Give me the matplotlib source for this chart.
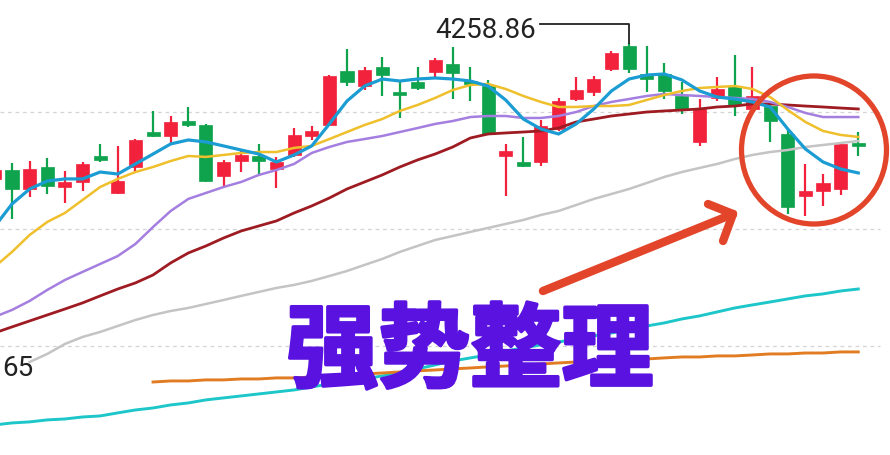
import matplotlib
matplotlib.use("Agg")
import matplotlib.pyplot as plt
import matplotlib.patheffects as pe
from matplotlib.patches import Ellipse
import numpy as np

# ---------------- data ----------------
idx = list(range(-1, 49))
opens = [4142.8, 4150.4, 4134.2, 4153.0, 4135.9, 4140.2, 4162.4, 4130.8, 4153.0, 4182.9,
         4179.5, 4192.3, 4188.9, 4145.3, 4158.1, 4162.4, 4151.3, 4163.3, 4179.5, 4188.9,
         4235.1, 4222.2, 4238.5, 4217.1, 4225.7, 4234.2, 4241.0, 4226.5, 4222.2, 4162.4,
         4157.3, 4157.3, 4185.5, 4211.1, 4217.1, 4236.8, 4256.4, 4232.5, 4232.5, 4213.7,
         4174.4, 4212.0, 4222.2, 4202.6, 4205.1, 4181.2, 4128.2, 4132.5, 4134.2, 4173.5]
closes = [4150.4, 4134.2, 4151.3, 4136.8, 4140.2, 4155.6, 4159.0, 4141.0, 4176.1, 4179.5,
          4191.5, 4188.9, 4141.0, 4157.3, 4163.3, 4158.1, 4157.3, 4180.4, 4183.8, 4230.8,
          4225.7, 4235.9, 4231.6, 4214.5, 4220.5, 4244.5, 4233.4, 4224.0, 4181.2, 4166.7,
          4153.9, 4188.1, 4209.4, 4218.8, 4228.2, 4250.4, 4236.8, 4228.2, 4218.0, 4202.6,
          4202.6, 4219.7, 4206.0, 4213.7, 4192.3, 4118.8, 4132.5, 4139.3, 4172.7, 4171.0]
highs = [4153.0, 4156.4, 4158.1, 4160.7, 4149.6, 4157.3, 4172.7, 4171.0, 4176.9, 4200.9,
         4196.6, 4204.3, 4189.8, 4159.0, 4166.7, 4172.7, 4161.6, 4186.3, 4188.1, 4231.6,
         4253.9, 4238.5, 4247.0, 4226.5, 4238.5, 4246.2, 4255.6, 4238.5, 4227.4, 4172.7,
         4178.7, 4193.2, 4212.0, 4229.9, 4230.8, 4252.2, 4258.86, 4256.4, 4241.9, 4225.7,
         4211.1, 4229.9, 4248.7, 4238.5, 4206.9, 4185.5, 4155.6, 4147.0, 4174.4, 4182.9]
lows = [4140.2, 4108.6, 4127.4, 4129.9, 4122.2, 4132.5, 4157.3, 4129.9, 4148.7, 4178.7,
        4171.8, 4187.2, 4140.2, 4135.9, 4148.7, 4145.3, 4135.1, 4161.6, 4176.1, 4188.1,
        4222.2, 4218.8, 4213.7, 4194.9, 4218.8, 4228.2, 4211.1, 4209.4, 4180.4, 4128.2,
        4153.0, 4153.9, 4183.8, 4209.4, 4213.7, 4235.1, 4233.4, 4217.1, 4211.1, 4198.3,
        4171.0, 4209.4, 4196.6, 4201.7, 4174.4, 4112.8, 4111.1, 4119.7, 4129.1, 4162.4]

ma5 = [4101.7, 4121.4, 4134.2, 4141.0, 4142.8, 4142.8, 4148.7, 4147.0, 4155.6, 4164.1,
       4172.7, 4176.1, 4174.4, 4171.0, 4167.5, 4164.1, 4157.3, 4163.3, 4171.0, 4189.8,
       4209.4, 4222.2, 4228.2, 4226.5, 4228.2, 4229.1, 4228.2, 4226.5, 4222.2, 4210.3,
       4194.0, 4185.5, 4181.2, 4189.8, 4202.6, 4218.0, 4228.2, 4231.6, 4232.5, 4227.4,
       4218.0, 4212.8, 4211.1, 4208.6, 4204.3, 4185.5, 4168.4, 4157.3, 4151.3, 4147.9]
ma10 = [4067.5, 4080.4, 4094.9, 4106.0, 4113.7, 4124.8, 4135.9, 4142.8, 4148.7, 4153.0,
        4158.1, 4162.4, 4161.6, 4163.3, 4165.0, 4165.8, 4165.8, 4169.3, 4171.0, 4176.9,
        4182.9, 4188.9, 4194.0, 4200.9, 4206.0, 4212.0, 4218.8, 4223.1, 4224.0, 4219.7,
        4213.7, 4208.6, 4204.3, 4204.3, 4205.1, 4205.1, 4206.0, 4210.3, 4214.5, 4218.0,
        4220.5, 4221.4, 4222.2, 4219.7, 4212.8, 4201.7, 4191.5, 4183.8, 4180.4, 4178.7]
ma20 = [4024.8, 4030.8, 4038.5, 4047.9, 4056.4, 4063.3, 4070.1, 4076.9, 4087.2, 4101.7,
        4115.4, 4125.7, 4130.8, 4135.9, 4140.2, 4146.2, 4150.4, 4155.6, 4165.0, 4170.1,
        4174.4, 4176.9, 4179.5, 4182.9, 4186.3, 4189.8, 4192.3, 4195.7, 4196.6, 4196.6,
        4194.9, 4194.9, 4196.6, 4200.0, 4205.1, 4208.6, 4211.1, 4213.7, 4215.4, 4214.5,
        4213.7, 4212.8, 4212.0, 4211.1, 4208.6, 4204.3, 4199.2, 4195.7, 4195.7, 4195.7]
ma30 = [4011.1, 4016.3, 4021.4, 4026.5, 4031.6, 4036.8, 4042.8, 4048.7, 4053.9, 4060.7,
        4071.0, 4079.5, 4085.5, 4092.3, 4098.3, 4102.6, 4106.9, 4113.7, 4119.7, 4126.5,
        4134.2, 4140.2, 4146.2, 4153.0, 4159.0, 4164.1, 4170.1, 4177.8, 4181.2, 4182.1,
        4182.9, 4183.8, 4186.3, 4191.5, 4194.0, 4196.6, 4198.3, 4200.0, 4200.9, 4201.7,
        4202.6, 4204.3, 4205.1, 4206.9, 4206.9, 4206.0, 4205.1, 4204.3, 4203.4, 4202.6]
ma60_idx = list(range(1, 49))
ma60 = [3986.3, 3993.2, 4001.7, 4007.7, 4012.0, 4017.1, 4022.2, 4026.5, 4029.9, 4032.5,
        4035.9, 4039.3, 4042.8, 4046.2, 4049.6, 4052.2, 4055.6, 4059.8, 4064.1, 4069.3,
        4074.4, 4080.4, 4085.5, 4090.6, 4094.0, 4097.5, 4100.9, 4104.3, 4107.7, 4112.0,
        4115.4, 4120.5, 4125.7, 4129.9, 4134.2, 4139.3, 4144.5, 4148.7, 4152.2, 4155.6,
        4159.8, 4163.3, 4165.8, 4167.5, 4170.1, 4171.8, 4173.5, 4175.2]
ma120 = [3932.5, 3934.2, 3935.1, 3936.8, 3937.6, 3939.3, 3940.2, 3942.8, 3945.3, 3947.0,
         3949.6, 3951.3, 3953.9, 3955.6, 3957.3, 3959.0, 3960.7, 3962.4, 3965.0, 3967.5,
         3970.1, 3971.8, 3974.4, 3976.9, 3980.4, 3983.8, 3987.2, 3989.8, 3992.3, 3995.7,
         3998.3, 4000.9, 4003.4, 4006.0, 4008.6, 4011.1, 4013.7, 4017.1, 4019.7, 4023.1,
         4025.7, 4029.1, 4032.5, 4035.1, 4037.6, 4040.2, 4042.8, 4044.5, 4047.0, 4048.7]
ma250_idx = list(range(8, 49))
ma250 = [3969.2, 3970.1, 3970.1, 3971.0, 3971.0, 3971.8, 3971.8, 3972.7, 3972.7, 3973.5,
         3974.4, 3975.2, 3976.1, 3976.9, 3977.8, 3978.7, 3979.5, 3980.4, 3981.2, 3982.1,
         3982.9, 3983.8, 3984.6, 3985.5, 3986.3, 3987.2, 3988.1, 3988.5, 3988.9, 3989.8,
         3990.6, 3990.6, 3991.5, 3991.5, 3992.3, 3993.2, 3993.2, 3994.0, 3994.0, 3994.9,
         3994.9]
grid_levels = [4200, 4100, 4000]
high_label = "4258.86"
low_label = "65"
title_text = "强势整理"

# ---------------- figure ----------------
fig = plt.figure(figsize=(8.9, 4.56), dpi=100)
fig.patch.set_facecolor("white")
ax = fig.add_axes([0, 0, 1, 1])
ax.set_xlim(-0.681, 49.8)
ax.set_ylim(3906.8, 4296.6)
ax.axis("off")

for g in grid_levels:
    ax.axhline(g, xmin=0, xmax=0.989, color="#d4d4d4", lw=0.9,
               dashes=(3, 3), zorder=0)

RED = "#f2223c"
GREEN = "#0ea34c"
x = np.array(idx)
o = np.array(opens); c = np.array(closes)
h = np.array(highs); l = np.array(lows)
up = c >= o
cols = np.where(up, RED, GREEN)
ax.vlines(x, l, h, colors=cols, lw=1.6, zorder=2)
bottom = np.minimum(o, c)
height = np.maximum(np.abs(c - o), 2.5)
bottom = np.where(np.abs(c - o) < 2.5, (o + c) / 2 - 1.25, bottom)
ax.bar(x, height, bottom=bottom, width=0.74, color=cols, edgecolor=cols,
       lw=0.5, zorder=3)

ax.plot(ma60_idx, ma60, color="#c4c4c4", lw=1.8, zorder=4)
ax.plot(idx, ma120, color="#1cc6c9", lw=2.1, zorder=4)
ax.plot(ma250_idx, ma250, color="#e27c22", lw=2.1, zorder=4)
ax.plot(idx, ma30, color="#9e1b22", lw=2.0, zorder=4)
ax.plot(idx, ma20, color="#a47fe0", lw=1.8, zorder=4)
ax.plot(idx, ma10, color="#efbf2c", lw=1.8, zorder=5)
ax.plot(idx, ma5, color="#1b9cd3", lw=2.3, zorder=6)

# high annotation
hi_i = int(np.argmax(h))
hx = x[hi_i]
ax.plot([hx - 5.05, hx, hx], [4275.2, 4275.2, h[hi_i]], color="#222222",
        lw=1.3, zorder=7)
ax.text(hx - 5.3, 4270.9, high_label, ha="right", va="center",
        fontsize=20, family="Roboto", color="#222222", zorder=7)

ax.text(2 / 890, 1 - 369 / 456, low_label, transform=ax.transAxes,
        ha="left", va="center", fontsize=20, family="Roboto",
        color="#222222", zorder=7)

# circle and arrow
ARROW = "#e2452a"
ell = Ellipse((0.9146, 0.6689), 0.1629, 0.3246, transform=ax.transAxes,
              fill=False, ec=ARROW, lw=3.8, zorder=8)
ax.add_patch(ell)
for (x0, y0) in [(0.610, 0.3596), (0.7955, 0.5504), (0.8124, 0.4693)]:
    ax.plot([x0, 0.8236], [y0, 0.5285], transform=ax.transAxes,
            color=ARROW, lw=6.0, solid_capstyle="round", zorder=8)

# big title
ax.text(0.528, 0.224, title_text, transform=ax.transAxes, ha="center",
        va="center", fontsize=66, weight="heavy",
        family=["Noto Sans CJK SC", "DejaVu Sans"], color="#5a12e0", zorder=9,
        path_effects=[pe.withStroke(linewidth=2.5, foreground="#5a12e0")])

fig.savefig("out.png", dpi=100, facecolor="white")
